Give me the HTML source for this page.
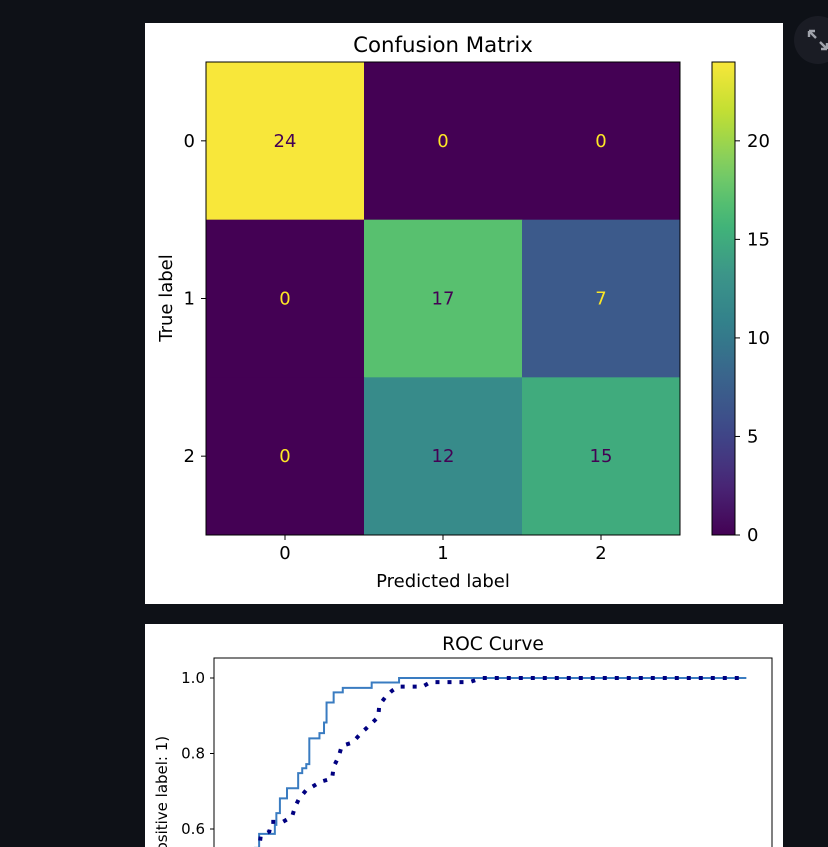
<!DOCTYPE html>
<html><head><meta charset="utf-8">
<style>
html,body{margin:0;padding:0;background:#0e1117;width:828px;height:847px;overflow:hidden;}
svg{position:absolute;left:0;top:0;}
text{font-family:"DejaVu Sans","Liberation Sans",sans-serif;}
</style></head>
<body>
<svg id="root" width="828" height="847">
  <defs><clipPath id="pageclip"><rect x="0" y="0" width="828" height="847"/></clipPath></defs>
  <rect x="145" y="23" width="638" height="581" fill="#ffffff"/>
  <rect x="145" y="624" width="638" height="223" fill="#ffffff"/>
  <g>
    <circle cx="818" cy="40" r="24" fill="#1a1c24"/>
    <path d="M809 31 l6 0 M809 31 l0 6 M809 31 l7 7 M827 49 l-6 0 M827 49 l0 -6 M827 49 l-7 -7" stroke="#a0a3ab" stroke-width="2.4" fill="none"/>
  </g>
  <g id="cm"></g>
  <g id="roc" clip-path="url(#pageclip)"></g>
</svg>
<script>
const cmLabels = ["0","1","2"];
const cmValues = [[24,0,0],[0,17,7],[0,12,15]];
const cbTicks = [0,5,10,15,20];
const rocYTicks = [0.6,0.8,1.0];
const solidFpr = [0,0,0.02,0.031,0.039,0.070,0.073,0.080,0.094,0.116,0.124,0.132,0.138,0.158,0.167,0.172,0.186,0.204,0.261,0.315,1.0];
const solidTpr = [0,0.3,0.45,0.55,0.587,0.611,0.642,0.681,0.708,0.748,0.761,0.772,0.840,0.854,0.882,0.935,0.962,0.974,0.988,1.0,1.0];
const dotFpr = [0,0.02,0.042,0.059,0.063,0.086,0.104,0.110,0.118,0.132,0.144,0.160,0.183,0.186,0.196,0.202,0.223,0.241,0.261,0.274,0.276,0.289,0.301,0.313,0.361,0.377,0.454,0.478,1.0];
const dotTpr = [0,0.35,0.580,0.593,0.619,0.619,0.633,0.659,0.681,0.703,0.712,0.725,0.734,0.765,0.792,0.820,0.829,0.855,0.880,0.897,0.928,0.951,0.966,0.977,0.977,0.989,0.989,1.0,1.0];

const NS="http://www.w3.org/2000/svg";
function mk(tag,attrs,parent){const e=document.createElementNS(NS,tag);for(const k in attrs)e.setAttribute(k,attrs[k]);parent.appendChild(e);return e;}
const viridisStops=[[68,1,84],[72,40,120],[62,73,137],[58,100,140],[50,128,139],[60,150,137],[66,184,118],[125,205,100],[190,222,50],[248,231,58]];
function viridis(t){t=Math.max(0,Math.min(1,t));const p=t*(viridisStops.length-1);const i=Math.min(Math.floor(p),viridisStops.length-2);const f=p-i;const a=viridisStops[i],b=viridisStops[i+1];return `rgb(${a.map((v,k)=>Math.round(v+(b[k]-v)*f)).join(",")})`;}

// Confusion matrix
const cm=document.getElementById('cm');
const L=206,T=62,W=474,H=473,n=cmLabels.length,cw=W/n,ch=H/n,vmax=24;
const cx=i=>L+cw*(i+0.5), cy=i=>T+ch*(i+0.5);
for(let r=0;r<n;r++)for(let c=0;c<n;c++){
  const v=cmValues[r][c];
  const rc=mk('rect',{x:L+cw*c,y:T+ch*r,width:cw+0.5,height:ch+0.5,fill:viridis(v/vmax)},cm);
  
  
  const tx=mk('text',{x:cx(c),y:cy(r)+6,'text-anchor':'middle','font-size':18,fill:v/vmax>=0.5?'#440154':'#fde725'},cm);
  tx.textContent=v;
  
  
}
mk('rect',{x:L,y:T,width:W,height:H,fill:'none',stroke:'#000','stroke-width':1},cm);
for(let i=0;i<n;i++){
  mk('line',{x1:cx(i),y1:T+H,x2:cx(i),y2:T+H+5,stroke:'#000'},cm);
  const t1=mk('text',{x:cx(i),y:T+H+24,'text-anchor':'middle','font-size':18,fill:'#000'},cm);t1.textContent=cmLabels[i];
  
  
  mk('line',{x1:L,y1:cy(i),x2:L-5,y2:cy(i),stroke:'#000'},cm);
  const t2=mk('text',{x:L-11,y:cy(i)+6,'text-anchor':'end','font-size':18,fill:'#000'},cm);t2.textContent=cmLabels[i];
  
  
}
let t=mk('text',{x:443,y:52,'text-anchor':'middle','font-size':21.3,fill:'#000'},cm);t.textContent='Confusion Matrix';


t=mk('text',{x:443,y:587,'text-anchor':'middle','font-size':18,fill:'#000'},cm);t.textContent='Predicted label';


t=mk('text',{x:172,y:298,'text-anchor':'middle','font-size':18,fill:'#000',transform:'rotate(-90 172 298)'},cm);t.textContent='True label';


// colorbar
const cbX=712,cbW=23;
const defs=mk('defs',{},cm);
const g=mk('linearGradient',{id:'vg',x1:0,y1:1,x2:0,y2:0},defs);
for(let i=0;i<=20;i++)mk('stop',{offset:i/20,'stop-color':viridis(i/20)},g);
const cb=mk('rect',{x:cbX,y:T,width:cbW,height:H,fill:'url(#vg)',stroke:'#000','stroke-width':1},cm);


cbTicks.forEach(v=>{const y=T+H-v/vmax*H;
  mk('line',{x1:cbX+cbW,y1:y,x2:cbX+cbW+5,y2:y,stroke:'#000'},cm);
  const tt=mk('text',{x:cbX+cbW+12,y:y+6,'font-size':18,fill:'#000'},cm);tt.textContent=v;
  
  
});

// ROC
const roc=document.getElementById('roc');
const rx=f=>214+(f+0.05)*507, ry=v=>678+(1-v)*377.5;
mk('rect',{x:214,y:658,width:558,height:200,fill:'none',stroke:'#000','stroke-width':1},roc);
rocYTicks.forEach(v=>{
  mk('line',{x1:214,y1:ry(v),x2:210,y2:ry(v),stroke:'#000'},roc);
  const tt=mk('text',{x:205,y:ry(v)+5,'text-anchor':'end','font-size':15,fill:'#000'},roc);tt.textContent=v.toFixed(1);
  
  
});
t=mk('text',{x:493,y:650,'text-anchor':'middle','font-size':18.7,fill:'#000'},roc);t.textContent='ROC Curve';


t=mk('text',{x:167,y:870,'text-anchor':'middle','font-size':15,fill:'#000',transform:'rotate(-90 167 870)'},roc);t.textContent='True Positive Rate (Positive label: 1)';


const clip=mk('clipPath',{id:'rc'},mk('defs',{},roc));mk('rect',{x:214,y:658,width:558,height:189},clip);
let d='';solidFpr.forEach((f,i)=>{if(i===0)d+=`M${rx(f)} ${ry(solidTpr[i])}`;else d+=` H${rx(f)} V${ry(solidTpr[i])}`;});
const sl=mk('path',{d:d,fill:'none',stroke:'#3a7cc1','stroke-width':2,'clip-path':'url(#rc)'},roc);


const dl=mk('polyline',{points:dotFpr.map((f,i)=>rx(f)+','+ry(dotTpr[i])).join(' '),fill:'none',stroke:'#000080','stroke-width':4,'stroke-dasharray':'4 8','clip-path':'url(#rc)'},roc);


</script>
</body></html>
